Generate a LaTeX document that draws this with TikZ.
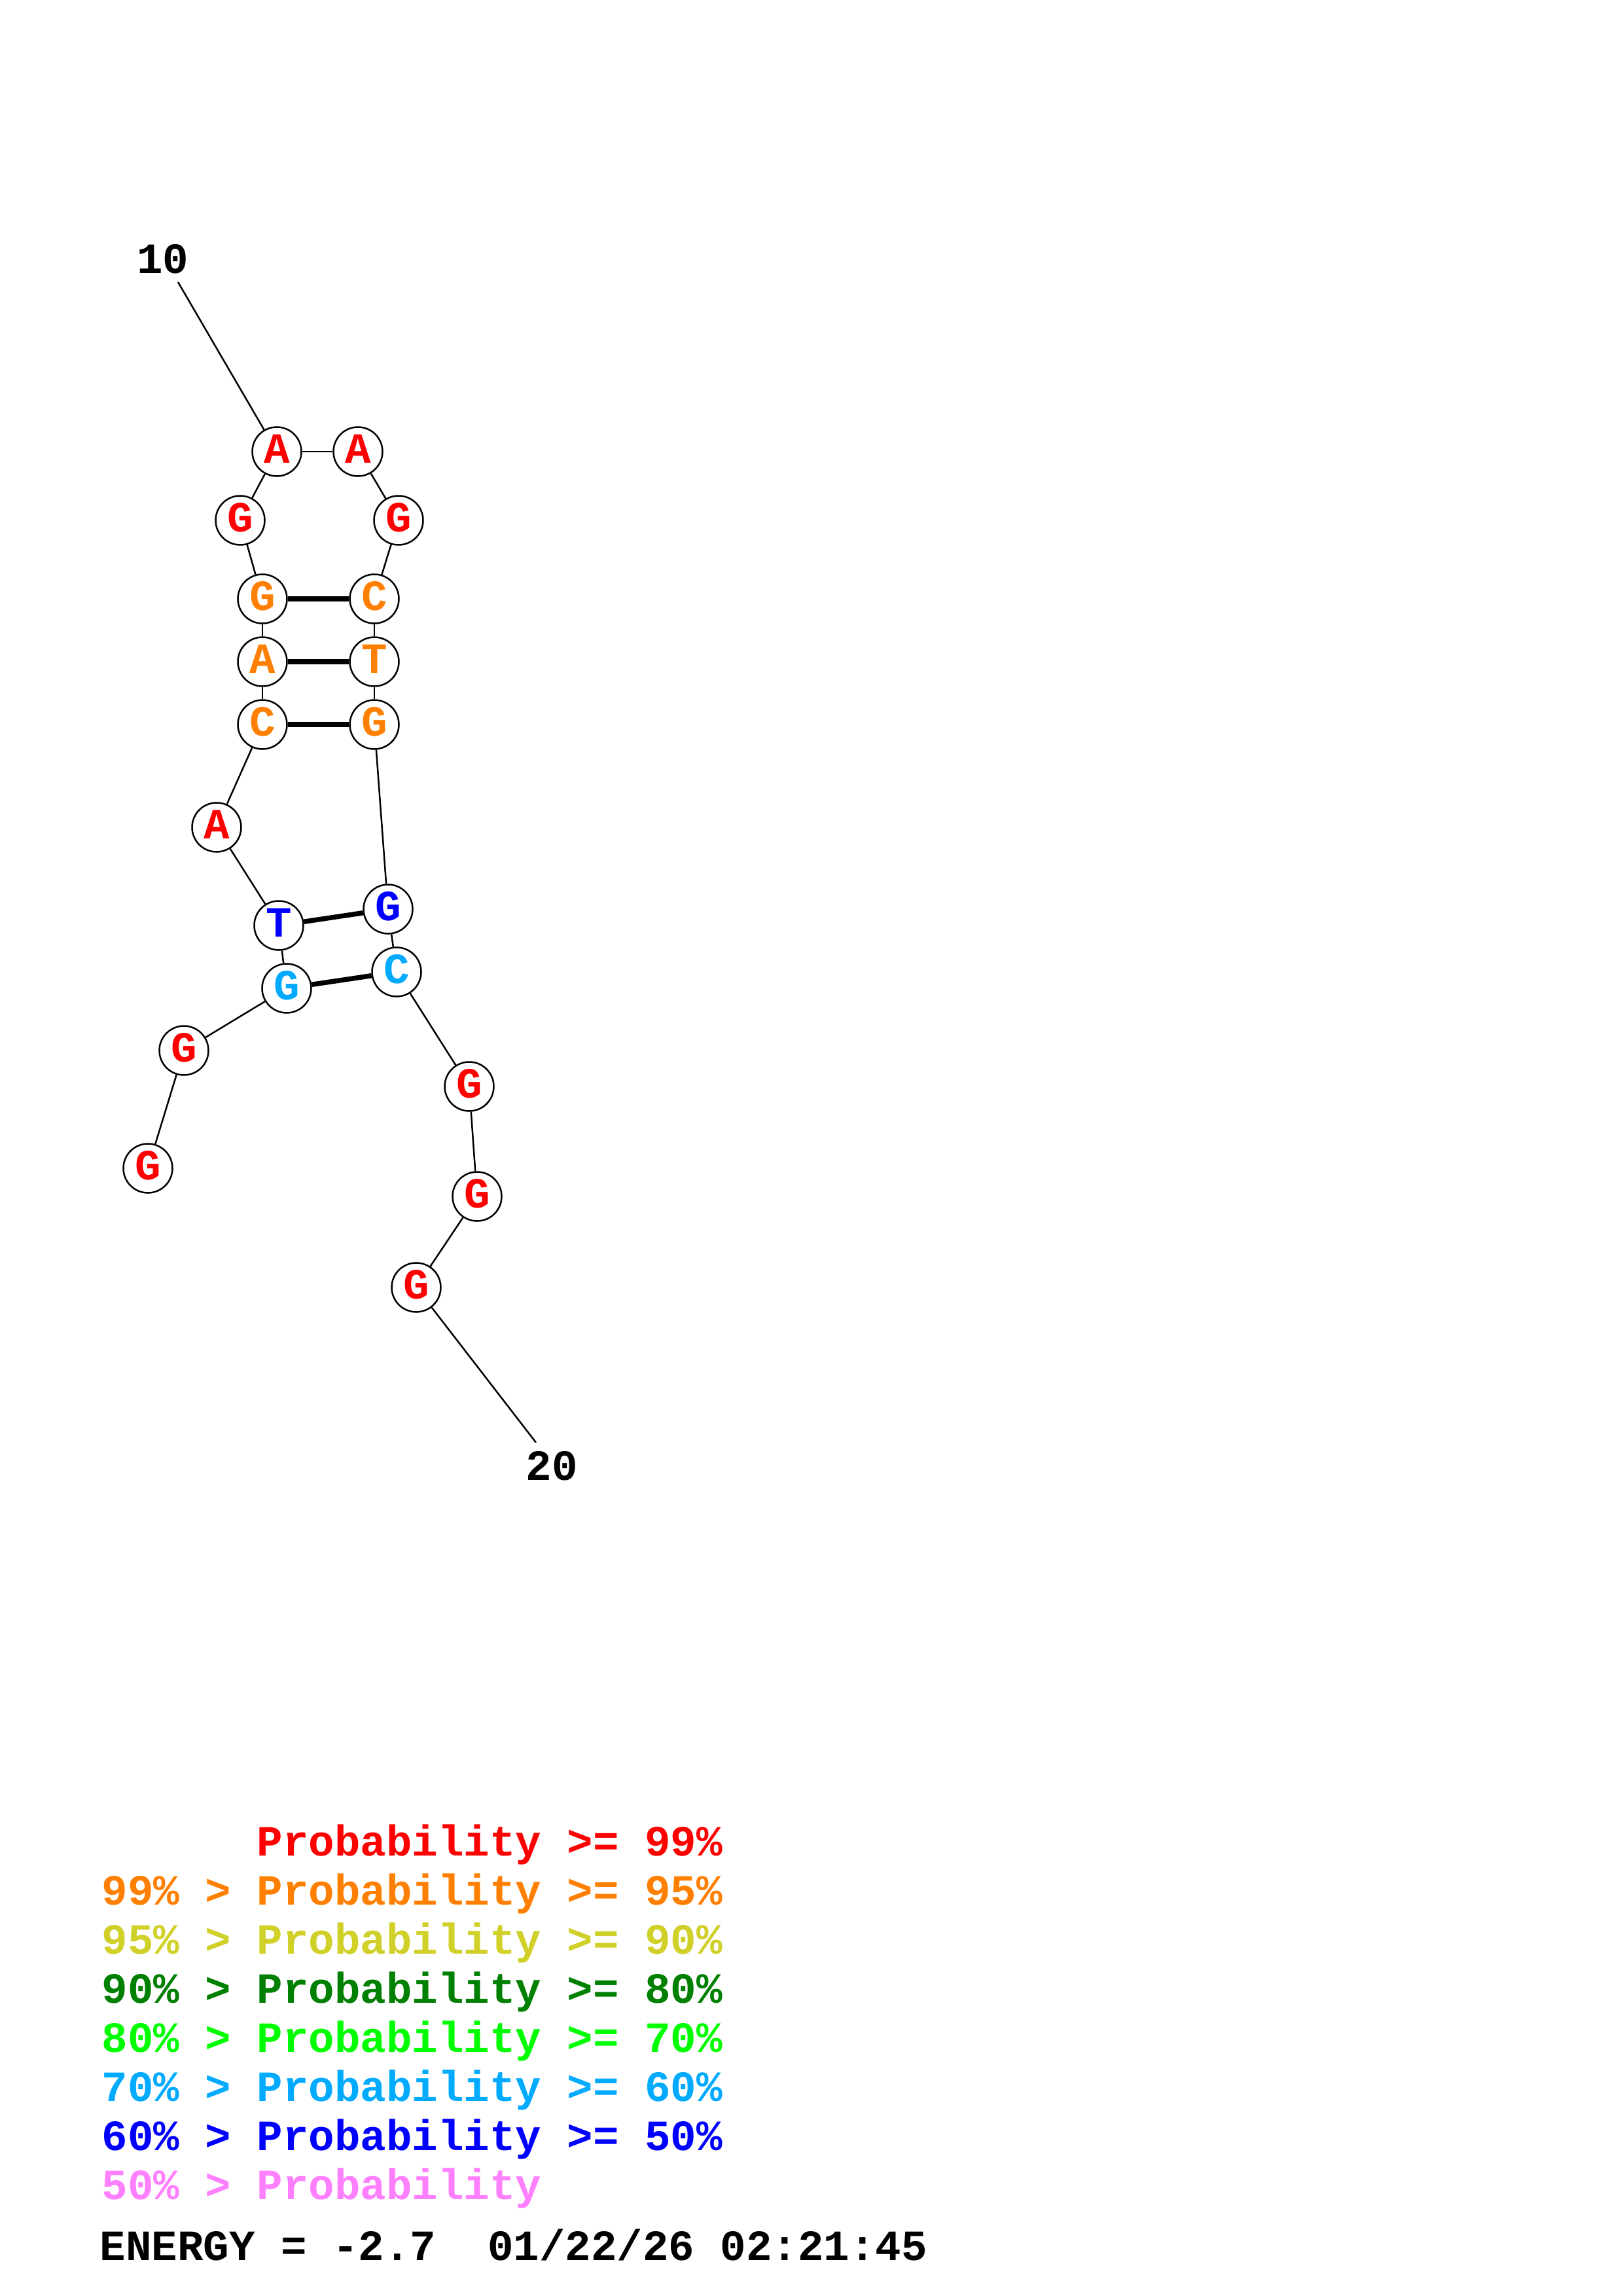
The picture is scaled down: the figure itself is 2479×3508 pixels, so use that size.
\documentclass[tikz,border=0pt]{standalone}
\usepackage{fontspec}
\setmonofont{Liberation Mono}
\definecolor{pRed}{RGB}{255,0,0}
\definecolor{pOrange}{RGB}{255,128,0}
\definecolor{pYellow}{RGB}{208,208,40}
\definecolor{pDGreen}{RGB}{0,128,0}
\definecolor{pGreen}{RGB}{0,255,0}
\definecolor{pCyan}{RGB}{0,170,255}
\definecolor{pBlue}{RGB}{0,0,255}
\definecolor{pPink}{RGB}{255,128,255}
\begin{document}
\begin{tikzpicture}[x=0.24pt,y=-0.24pt,
  base/.style={circle,draw=black,line width=0.6pt,fill=white,minimum size=18pt,inner sep=0pt,
    font=\ttfamily\bfseries\fontsize{15.8}{18}\selectfont,text height=8.6pt,text depth=0pt},
  bb/.style={line width=0.6pt},
  pair/.style={line width=1.8pt},
  lbl/.style={font=\ttfamily\bfseries\fontsize{15.8}{18}\selectfont,inner sep=0pt},
  leg/.style={font=\ttfamily\bfseries\fontsize{15.8}{18}\selectfont,inner sep=0pt,anchor=base west}]
\useasboundingbox[fill=white] (0,0) rectangle (2479,3508);
% bases
\node[base,text=pRed]    (n1)  at (226,1785) {G};
\node[base,text=pRed]    (n2)  at (281,1605) {G};
\node[base,text=pCyan]   (n3)  at (438,1510) {G};
\node[base,text=pBlue]   (n4)  at (426,1414) {T};
\node[base,text=pRed]    (n5)  at (331,1264) {A};
\node[base,text=pOrange] (n6)  at (401,1107) {C};
\node[base,text=pOrange] (n7)  at (401,1011) {A};
\node[base,text=pOrange] (n8)  at (401,915)  {G};
\node[base,text=pRed]    (n9)  at (367,795)  {G};
\node[base,text=pRed]    (n10) at (423,690)  {A};
\node[base,text=pRed]    (n11) at (547,690)  {A};
\node[base,text=pRed]    (n12) at (609,795)  {G};
\node[base,text=pOrange] (n13) at (572,915)  {C};
\node[base,text=pOrange] (n14) at (572,1011) {T};
\node[base,text=pOrange] (n15) at (572,1107) {G};
\node[base,text=pBlue]   (n16) at (593,1389) {G};
\node[base,text=pCyan]   (n17) at (606,1485) {C};
\node[base,text=pRed]    (n18) at (717,1660) {G};
\node[base,text=pRed]    (n19) at (729,1828) {G};
\node[base,text=pRed]    (n20) at (636,1967) {G};
% backbone
\draw[bb] (n1)--(n2);
\draw[bb] (n2)--(n3);
\draw[bb] (n3)--(n4);
\draw[bb] (n4)--(n5);
\draw[bb] (n5)--(n6);
\draw[bb] (n6)--(n7);
\draw[bb] (n7)--(n8);
\draw[bb] (n8)--(n9);
\draw[bb] (n9)--(n10);
\draw[bb] (n10)--(n11);
\draw[bb] (n11)--(n12);
\draw[bb] (n12)--(n13);
\draw[bb] (n13)--(n14);
\draw[bb] (n14)--(n15);
\draw[bb] (n15)--(n16);
\draw[bb] (n16)--(n17);
\draw[bb] (n17)--(n18);
\draw[bb] (n18)--(n19);
\draw[bb] (n19)--(n20);
% pairs
\draw[pair] (n3)--(n17);
\draw[pair] (n4)--(n16);
\draw[pair] (n6)--(n15);
\draw[pair] (n7)--(n14);
\draw[pair] (n8)--(n13);
% numbering
\node[lbl] (l10) at (249,396) {10};
\coordinate (c10) at (272,431);
\draw[bb] (c10)--(n10);
\node[lbl] (l20) at (843,2240) {20};
\coordinate (c20) at (819,2204);
\draw[bb] (n20)--(c20);
% legend
\node[leg,text=pRed]    (r1) at (392,2835) {Probability >= 99\%};
\node[leg,text=pOrange] (r2) at (155,2910) {99\% > Probability >= 95\%};
\node[leg,text=pYellow] (r3) at (155,2985) {95\% > Probability >= 90\%};
\node[leg,text=pDGreen] (r4) at (155,3060) {90\% > Probability >= 80\%};
\node[leg,text=pGreen]  (r5) at (155,3135) {80\% > Probability >= 70\%};
\node[leg,text=pCyan]   (r6) at (155,3210) {70\% > Probability >= 60\%};
\node[leg,text=pBlue]   (r7) at (155,3285) {60\% > Probability >= 50\%};
\node[leg,text=pPink]   (r8) at (155,3360) {50\% > Probability};
\node[leg,text=black]   (en) at (152,3453) {ENERGY = -2.7~~01/22/26 02:21:45};
\end{tikzpicture}
\end{document}
